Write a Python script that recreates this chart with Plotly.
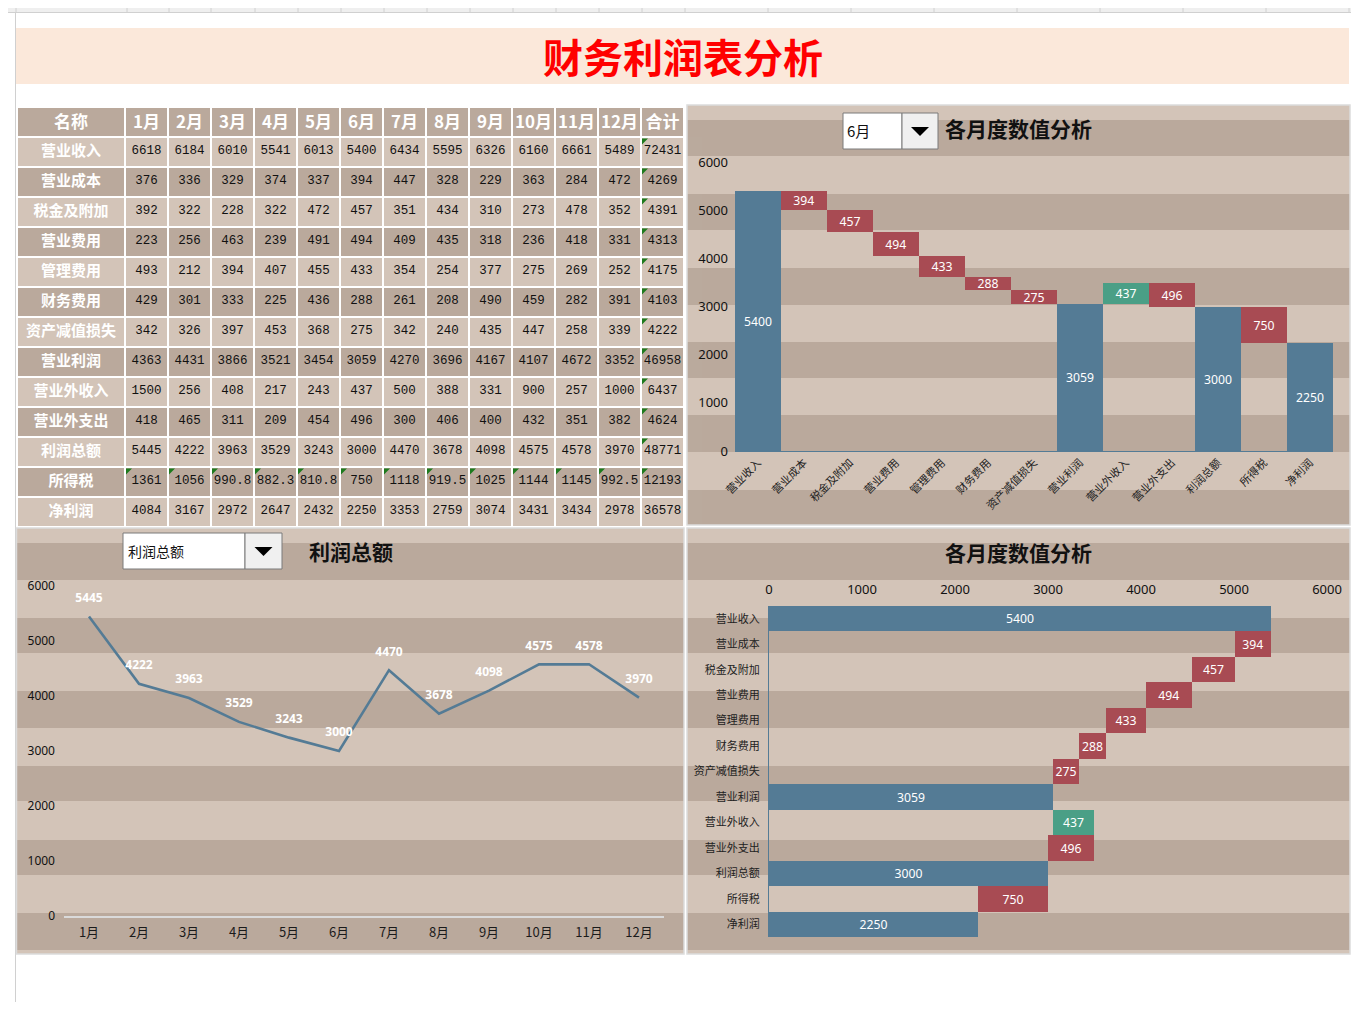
import plotly.graph_objects as go

# ---------------- data ----------------
items = ["营业收入", "营业成本", "税金及附加", "营业费用", "管理费用", "财务费用",
         "资产减值损失", "营业利润", "营业外收入", "营业外支出", "利润总额", "所得税", "净利润"]
months = ["1月", "2月", "3月", "4月", "5月", "6月", "7月", "8月", "9月", "10月", "11月", "12月"]

revenue = [6618, 6184, 6010, 5541, 6013, 5400, 6434, 5595, 6326, 6160, 6661, 5489]
op_cost = [376, 336, 329, 374, 337, 394, 447, 328, 229, 363, 284, 472]
tax_surcharge = [392, 322, 228, 322, 472, 457, 351, 434, 310, 273, 478, 352]
selling_exp = [223, 256, 463, 239, 491, 494, 409, 435, 318, 236, 418, 331]
admin_exp = [493, 212, 394, 407, 455, 433, 354, 254, 377, 275, 269, 252]
finance_exp = [429, 301, 333, 225, 436, 288, 261, 208, 490, 459, 282, 391]
impairment = [342, 326, 397, 453, 368, 275, 342, 240, 435, 447, 258, 339]
op_profit = [4363, 4431, 3866, 3521, 3454, 3059, 4270, 3696, 4167, 4107, 4672, 3352]
nonop_income = [1500, 256, 408, 217, 243, 437, 500, 388, 331, 900, 257, 1000]
nonop_expense = [418, 465, 311, 209, 454, 496, 300, 406, 400, 432, 351, 382]
total_profit = [5445, 4222, 3963, 3529, 3243, 3000, 4470, 3678, 4098, 4575, 4578, 3970]
income_tax = [1361, 1056, 990.8, 882.3, 810.8, 750, 1118, 919.5, 1025, 1144, 1145, 992.5]
net_profit = [4084, 3167, 2972, 2647, 2432, 2250, 3353, 2759, 3074, 3431, 3434, 2978]
row_totals = [72431, 4269, 4391, 4313, 4175, 4103, 4222, 46958, 6437, 4624, 48771, 12193, 36578]

rows = [revenue, op_cost, tax_surcharge, selling_exp, admin_exp, finance_exp, impairment,
        op_profit, nonop_income, nonop_expense, total_profit, income_tax, net_profit]
# waterfall measures / directions for each item
measures = ["absolute", "relative", "relative", "relative", "relative", "relative", "relative",
            "total", "relative", "relative", "total", "relative", "total"]
signs = [1, -1, -1, -1, -1, -1, -1, 1, 1, -1, 1, -1, 1]
selected_month = "6月"
line_item = "利润总额"

# ---------------- helpers ----------------
# the page keeps the browser's default 8px body margin, so the figure is 16px smaller
# than the window and every reference pixel position is shifted by 8px
PAGE_W, PAGE_H, OFF = 1359, 1010, 8
W, H = PAGE_W - 2 * OFF, PAGE_H - 2 * OFF
def X(px): return (px - OFF) / W
def Y(py): return 1 - (py - OFF) / H
def fmt(v): return f"{v:g}"

BLUE = "#547B95"
RED = "#A84B53"
GREEN = "#4A9F86"
LIGHT = "#D3C4B8"
DARK = "#BAA99C"
CJK = "Noto Sans CJK SC"

mi = months.index(selected_month)
m_vals = [r[mi] for r in rows]
wf_vals = [s * v for s, v in zip(signs, m_vals)]
wf_text = [fmt(v) for v in m_vals]

fig = go.Figure()

# ---------------- table ----------------
header_vals = ["名称"] + months + ["合计"]
cell_cols = [items] + [[fmt(r[i]) for r in rows] for i in range(12)] + [[fmt(v) for v in row_totals]]
row_colors = [LIGHT if k % 2 == 0 else DARK for k in range(len(items))]
ncol = len(header_vals)
fig.add_trace(go.Table(
    domain=dict(x=[X(17), X(684)], y=[Y(527.5), Y(107)]),
    columnwidth=[108] + [43] * 13,
    header=dict(values=header_vals, height=30, fill_color=DARK, align="center",
                line=dict(color="white", width=1.5),
                font=dict(family=CJK, size=17, color="white", weight="bold")),
    cells=dict(values=cell_cols, height=30, align="center",
               fill_color=[row_colors] * ncol,
               line=dict(color="white", width=1.5),
               font=dict(family=[CJK] + ["Liberation Mono"] * 13,
                         size=[15] + [12.5] * 13,
                         color=["white"] + ["#111111"] * 13,
                         weight=["bold"] + ["normal"] * 13)),
))

# ---------------- top-right waterfall ----------------
fig.add_trace(go.Waterfall(
    x=items, y=wf_vals, measure=measures, text=wf_text, texttemplate="%{text}",
    textposition="inside", insidetextanchor="middle",
    textfont=dict(color="white", size=13, family="Noto Sans"),
    connector=dict(visible=False),
    increasing=dict(marker=dict(color=GREEN, line=dict(width=0))),
    decreasing=dict(marker=dict(color=RED, line=dict(width=0))),
    totals=dict(marker=dict(color=BLUE, line=dict(width=0))),
    xaxis="x", yaxis="y", showlegend=False, hoverinfo="x+text",
))

# ---------------- bottom-left line ----------------
li = items.index(line_item)
fig.add_trace(go.Scatter(
    x=months, y=rows[li], mode="lines+markers+text",
    line=dict(color=BLUE, width=2.6),
    marker=dict(size=17, color="rgba(0,0,0,0)"),
    text=[fmt(v) for v in rows[li]], textposition="top center",
    textfont=dict(color="white", size=12, family="Noto Sans", weight="bold"),
    xaxis="x2", yaxis="y2", showlegend=False,
))

# ---------------- bottom-right horizontal waterfall ----------------
fig.add_trace(go.Waterfall(
    orientation="h", y=items, x=wf_vals, measure=measures, text=wf_text,
    texttemplate="%{text}", textposition="inside", insidetextanchor="middle",
    textfont=dict(color="white", size=13, family="Noto Sans"),
    connector=dict(visible=False),
    increasing=dict(marker=dict(color=GREEN, line=dict(width=0))),
    decreasing=dict(marker=dict(color=RED, line=dict(width=0))),
    totals=dict(marker=dict(color=BLUE, line=dict(width=0))),
    xaxis="x3", yaxis="y3", showlegend=False, hoverinfo="y+text",
))

# ---------------- shapes ----------------
shapes = []
def rect(x0, y0, x1, y1, fill=None, line=None, lw=0, layer="below"):
    shapes.append(dict(type="rect", xref="paper", yref="paper",
                       x0=X(x0), x1=X(x1), y0=Y(y1), y1=Y(y0),
                       fillcolor=fill if fill else "rgba(0,0,0,0)",
                       line=dict(color=line if line else "rgba(0,0,0,0)", width=lw),
                       layer=layer))
def hline(x0, x1, y, color, lw=1, layer="below"):
    shapes.append(dict(type="line", xref="paper", yref="paper", x0=X(x0), x1=X(x1),
                       y0=Y(y), y1=Y(y), line=dict(color=color, width=lw), layer=layer))
def vline(x, y0, y1, color, lw=1, layer="below"):
    shapes.append(dict(type="line", xref="paper", yref="paper", x0=X(x), x1=X(x),
                       y0=Y(y0), y1=Y(y1), line=dict(color=color, width=lw), layer=layer))
def tri(x0, y0, s, color):
    p = f"M {X(x0)},{Y(y0)} L {X(x0 + s)},{Y(y0)} L {X(x0)},{Y(y0 + s)} Z"
    shapes.append(dict(type="path", xref="paper", yref="paper", path=p,
                       fillcolor=color, line=dict(width=0), layer="above"))

# Excel chrome (only the lower part of the column-header strip is inside the figure)
rect(0, 0, PAGE_W, 12.5, fill="#EFEFEF")
hline(0, PAGE_W, 12.5, "#D0D0D0")
vline(15.5, 12.5, PAGE_H, "#D0D0D0")
col_bounds = [16, 127, 169, 211, 255, 298, 341, 384, 427, 470, 513, 556, 599, 642, 685,
              768, 851, 934, 1017, 1100, 1183, 1266, 1349]
for b in col_bounds:
    vline(b, 0, 12.5, "#D0D0D0")

# title band
rect(16, 28, 1349, 84, fill="#FBE8DA")

# panels with stripes
panels = [(687, 105, 1350, 525, [(120, 156), (194, 230), (268, 305), (342, 378), (415, 452), (490, 525)]),
          (16.5, 528, 684, 954, [(543, 580), (618, 653), (691, 728), (766, 801), (840, 875), (913, 950)]),
          (687, 528, 1350, 954, [(543, 580), (618, 653), (691, 728), (766, 801), (840, 875), (913, 950)])]
for (x0, y0, x1, y1, bands) in panels:
    rect(x0, y0, x1, y1, fill=LIGHT)
    for (b0, b1) in bands:
        rect(x0, b0, x1, b1, fill=DARK)
    rect(x0, y0, x1, y1, line="#DCDCDC", lw=1.5)

# dropdowns
def dropdown(x0, x1, x2, y0, y1):
    rect(x0, y0, x1, y1, fill="white", line="#7A7A7A", lw=1)
    rect(x1, y0, x2, y1, fill="#F0F0F0", line="#7A7A7A", lw=1)
    cx, cy = (x1 + x2) / 2, (y0 + y1) / 2
    p = f"M {X(cx - 9)},{Y(cy - 4)} L {X(cx + 9)},{Y(cy - 4)} L {X(cx)},{Y(cy + 5)} Z"
    shapes.append(dict(type="path", xref="paper", yref="paper", path=p,
                       fillcolor="black", line=dict(width=0), layer="below"))
dropdown(843, 902, 938, 113, 149)
dropdown(123, 245, 282, 533, 569)

# Excel error-indicator triangles
col_x = [125 + 43 * i for i in range(13)]
for r in range(12):
    tri(col_x[12] + 1, 107.5 + 30 * (r + 1) + 1, 6, "#1D7A1D")
for c in range(12):
    tri(col_x[c] + 1, 107.5 + 30 * 12 + 1, 6, "#1D7A1D")

# ---------------- annotations ----------------
ann = []
def text(x, y, s, size, color="#111111", xanchor="center", weight="normal", family=CJK):
    ann.append(dict(x=X(x), y=Y(y), xref="paper", yref="paper", text=s, showarrow=False,
                    xanchor=xanchor, yanchor="middle",
                    font=dict(size=size, color=color, family=family, weight=weight)))

text(683, 56, "财务利润表分析", 40, color="#FF0000", weight="bold")
text(845, 131, selected_month, 15, xanchor="left")
text(943, 128, "各月度数值分析", 21, xanchor="left", weight="bold")
text(126, 551, line_item, 14, xanchor="left")
text(307, 551, line_item, 21, xanchor="left", weight="bold")
text(1018, 552, "各月度数值分析", 21, weight="bold")

common = dict(showgrid=False, zeroline=False, ticks="", fixedrange=True, automargin=False)
fig.update_layout(
    width=W, height=H, margin=dict(l=0, r=0, t=0, b=0, pad=0, autoexpand=False),
    paper_bgcolor="white", plot_bgcolor="rgba(0,0,0,0)",
    font=dict(family=CJK),
    waterfallgap=0,
    uniformtext=dict(minsize=12, mode="show"),
    shapes=shapes, annotations=ann,
    xaxis=dict(domain=[X(735), X(1333)], anchor="y", type="category",
               tickangle=-45, tickfont=dict(family=CJK, size=11, color="#222222"),
               showline=True, linecolor=BLUE, linewidth=1, **common),
    yaxis=dict(domain=[Y(451), Y(162)], anchor="x", range=[0, 6000], dtick=1000,
               tickfont=dict(family="Noto Sans", size=13, color="#111111"),
               ticklabelstandoff=6, **common),
    xaxis2=dict(domain=[X(64), X(664)], anchor="y2", type="category", range=[-0.5, 11.5],
                showline=True, linecolor="#DADADA", linewidth=1.5,
                tickfont=dict(family=CJK, size=13, color="#1A1A1A"),
                ticklabelstandoff=4, **common),
    yaxis2=dict(domain=[Y(916), Y(586)], anchor="x2", range=[0, 6000], dtick=1000,
                tickfont=dict(family="Noto Sans", size=12, color="#111111"),
                ticklabelstandoff=8, **common),
    xaxis3=dict(domain=[X(769), X(1327)], anchor="y3", side="top", range=[0, 6000], dtick=1000,
                tickfont=dict(family="Noto Sans", size=13, color="#111111"),
                ticklabelstandoff=8, **common),
    yaxis3=dict(domain=[Y(937), Y(606)], anchor="x3", type="category", autorange="reversed",
                showline=True, linecolor=BLUE, linewidth=1,
                tickfont=dict(family=CJK, size=11, color="#222222"),
                ticklabelstandoff=6, **common),
)

fig.write_html("out.html", config={"displayModeBar": False})
